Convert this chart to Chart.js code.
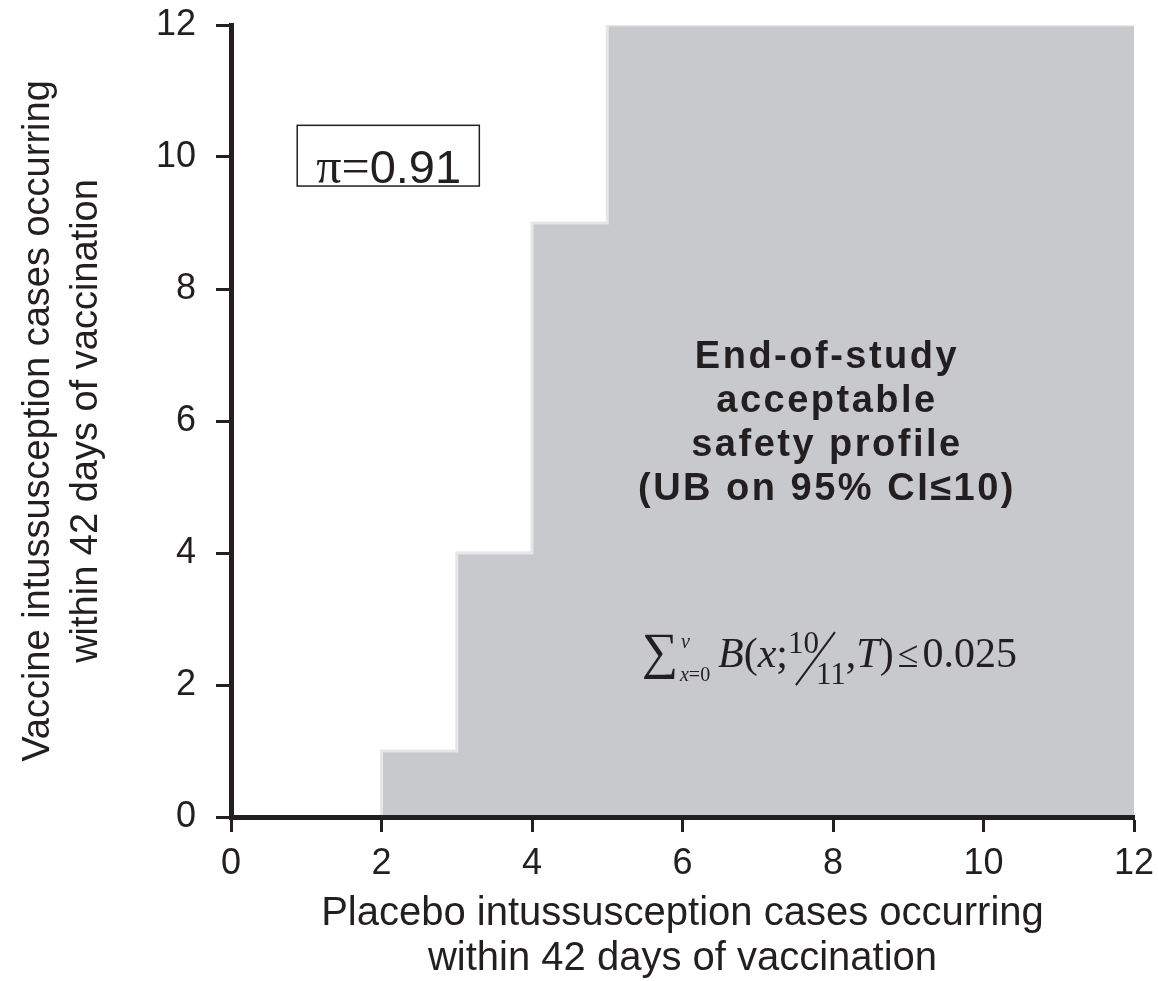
<!DOCTYPE html>
<html lang="en">
<head>
<meta charset="UTF-8">
<title>Intussusception safety profile</title>
<script src="https://cdn.jsdelivr.net/npm/chart.js@4.4.0/dist/chart.umd.min.js"></script>
<style>
  html, body { margin: 0; padding: 0; background: #fff; }
  #wrap { width: 1158px; height: 981px; }
</style>
</head>
<body>
<div id="wrap"><canvas id="chart" width="1158" height="981"></canvas></div>
<script>
// stepped boundary of the acceptable region (placebo cases -> max vaccine cases)
const placeboCases = [2, 2, 3, 4, 5, 12];
const vaccineLimit = [0, 1, 4, 9, 12, 12];
const axisMin = 0, axisMax = 12, tickStep = 2;
const xTitle = ['Placebo intussusception cases occurring', 'within 42 days of vaccination'];
const yTitle = ['Vaccine intussusception cases occurring', 'within 42 days of vaccination'];
const regionLabel = ['End-of-study', 'acceptable', 'safety profile', '(UB on 95% CI\u226410)'];
const piValue = '0.91';

const ink = '#231f20';
const sans = '"Liberation Sans", Arial, Helvetica, sans-serif';
const serif = '"Liberation Serif", "Times New Roman", serif';

// draws pieces of text one after another, returns the x where it stopped
function textRun(ctx, parts, x, y) {
    for (const p of parts) {
        ctx.font = (p.i ? 'italic ' : '') + p.s + 'px ' + (p.f || serif);
        x += p.dx || 0;
        ctx.fillText(p.t, x, y + (p.dy || 0));
        x += ctx.measureText(p.t).width;
    }
    return x;
}

const notes = {
    id: 'notes',
    afterDraw(chart) {
        const ctx = chart.ctx;
        const xs = chart.scales.x, ys = chart.scales.y;
        ctx.save();
        ctx.fillStyle = ink;
        ctx.strokeStyle = ink;
        ctx.textBaseline = 'alphabetic';

        // pi box
        const bx0 = xs.getPixelForValue(0.88), bx1 = xs.getPixelForValue(3.3);
        const by0 = ys.getPixelForValue(10.48), by1 = ys.getPixelForValue(9.56);
        ctx.lineWidth = 1.5;
        ctx.strokeRect(bx0, by0, bx1 - bx0, by1 - by0);
        textRun(ctx, [
            { t: '\u03c0', s: 50 },
            { t: '=', s: 50 },
            { t: piValue, s: 47, f: sans }
        ], bx0 + 19, by1 - 3);

        // region label
        ctx.textAlign = 'center';
        ctx.font = 'bold 38px ' + sans;
        if ('letterSpacing' in ctx) ctx.letterSpacing = '2.5px';
        const cx = xs.getPixelForValue(7.92);
        let ly = ys.getPixelForValue(6.8);
        regionLabel.forEach(line => { ctx.fillText(line, cx, ly); ly += 44; });
        if ('letterSpacing' in ctx) ctx.letterSpacing = '0px';

        // formula
        ctx.textAlign = 'left';
        const ax = xs.getPixelForValue(5.475), ay = ys.getPixelForValue(2.27);
        ctx.font = '51px ' + serif;
        ctx.fillText('\u2211', ax - 1, ay + 1);
        textRun(ctx, [{ t: 'v', s: 20, i: true }], ax + 38, ay - 19);
        textRun(ctx, [{ t: 'x', s: 20, i: true }, { t: '=0', s: 20 }], ax + 37, ay + 14);
        let fx = textRun(ctx, [
            { t: 'B', s: 42, i: true },
            { t: '(', s: 42 },
            { t: 'x', s: 42, i: true },
            { t: ';', s: 42 }
        ], ax + 75, ay);
        textRun(ctx, [{ t: '10', s: 31 }], fx, ay - 14);
        ctx.lineWidth = 2;
        ctx.beginPath();
        ctx.moveTo(fx + 8, ay + 18);
        ctx.lineTo(fx + 47, ay - 35);
        ctx.stroke();
        fx = textRun(ctx, [{ t: '11', s: 31 }], fx + 28, ay + 17);
        textRun(ctx, [
            { t: ',', s: 42 },
            { t: 'T', s: 42, i: true },
            { t: ')', s: 42 },
            { t: '\u2264', s: 38, dx: 4 },
            { t: '0.025', s: 42, dx: 4 }
        ], fx, ay);
        ctx.restore();
    }
};

const axisCommon = {
    type: 'linear',
    min: axisMin,
    max: axisMax,
    border: { display: true, width: 5, color: ink, z: 1 },
    grid: { drawOnChartArea: false, drawTicks: true, tickLength: 15, tickWidth: 3, tickColor: ink, color: ink, z: 1 },
};

new Chart(document.getElementById('chart'), {
    type: 'line',
    data: {
        datasets: [{
            data: placeboCases.map((p, i) => ({ x: p, y: vaccineLimit[i] })),
            stepped: 'before',
            fill: 'origin',
            backgroundColor: '#c8c9cc',
            borderColor: '#e6e6e6',
            borderWidth: 3,
            pointRadius: 0
        }]
    },
    options: {
        responsive: false,
        animation: false,
        devicePixelRatio: 1,
        layout: { padding: { top: 25, right: 24, bottom: 0, left: 0 } },
        plugins: { legend: { display: false }, tooltip: { enabled: false } },
        scales: {
            x: Object.assign({}, axisCommon, {
                position: 'bottom',
                ticks: { stepSize: tickStep, color: ink, padding: 10, z: 1, font: { family: sans, size: 36 } },
                title: { display: true, text: xTitle, color: ink, padding: { top: 0, bottom: 0 },
                         font: { family: sans, size: 40, lineHeight: 1.125 } },
                afterFit(scale) {
                    scale.height = 164;
                    scale.paddingLeft = 0;
                    scale.paddingRight = 0;
                }
            }),
            y: Object.assign({}, axisCommon, {
                position: 'left',
                ticks: { stepSize: tickStep, color: ink, padding: 20, z: 1, font: { family: sans, size: 36 } },
                title: { display: true, text: yTitle, color: ink, padding: { top: 15, bottom: 0 },
                         font: { family: sans, size: 38, lineHeight: 1.263 } },
                afterFit(scale) {
                    scale.width = 231;
                    scale.paddingTop = 0;
                    scale.paddingBottom = 0;
                }
            })
        }
    },
    plugins: [notes]
});
</script>
</body>
</html>
